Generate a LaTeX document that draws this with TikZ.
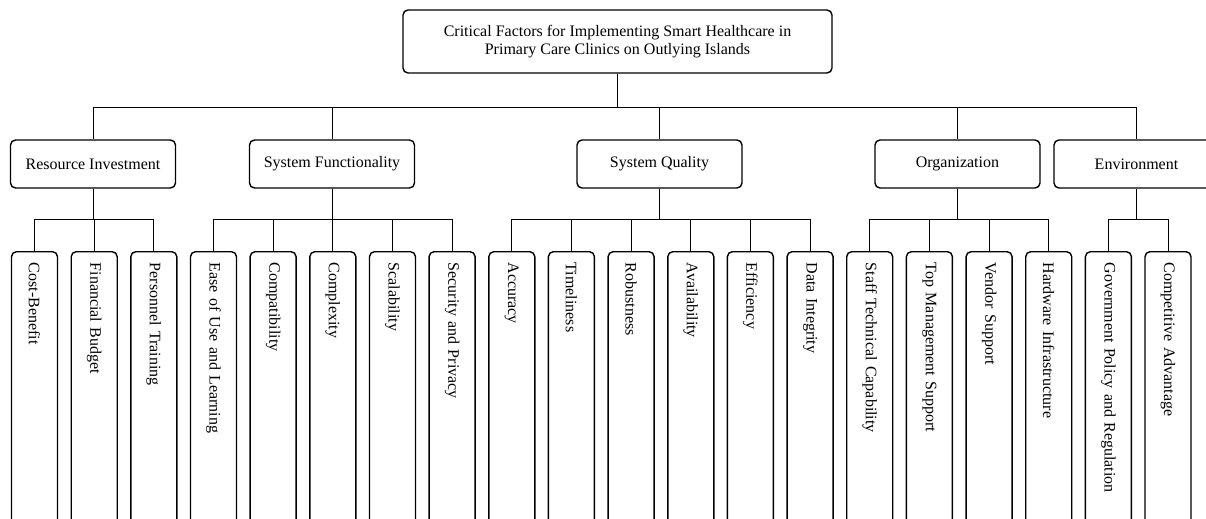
\documentclass[tikz,border=0pt]{standalone}
\usepackage{fontspec}
\setmainfont{Liberation Serif}
\usetikzlibrary{positioning}
\tikzset{
  rootbox/.style={draw,rounded corners=2.5pt,line width=0.7pt,align=center,minimum width=214.5pt,minimum height=31.5pt,inner sep=2pt},
  catbox/.style={draw,rounded corners=2.5pt,line width=0.7pt,align=center,minimum width=82.5pt,minimum height=24pt,inner sep=2pt},
  leafbox/.style={draw,rounded corners=2.5pt,line width=0.7pt,rotate=-90,anchor=west,minimum width=150pt,minimum height=23pt,inner xsep=5.5pt,inner ysep=0pt,text width=139pt,align=left},
  link/.style={draw,line width=0.5pt}
}
\begin{document}
\begin{tikzpicture}[x=0.5pt,y=-0.5pt,font=\fontsize{8}{9}\selectfont]
  \useasboundingbox (0,0) rectangle (1206,519);
  \clip (0,0) rectangle (1206,519);
  \node[rootbox] (root) at (617.5,41.5) {Critical Factors for Implementing Smart Healthcare in\\Primary Care Clinics on Outlying Islands};
  % factor groups
  \node[catbox] (res) at (93,164) {Resource Investment};
  \node[catbox] (func) at (332,164) {System Functionality};
  \node[catbox] (qual) at (659.5,164) {System Quality};
  \node[catbox] (org) at (957.5,164) {Organization};
  \node[catbox] (env) at (1136.5,164) {Environment};
  % sub-factors
  \node[leafbox] (cost) at (34.5,251) {Cost-Benefit};
  \node[leafbox] (budget) at (94.2,251) {Financial Budget};
  \node[leafbox] (train) at (153.8,251) {Personnel Training};
  \node[leafbox] (ease) at (213.5,251) {Ease of Use and Learning};
  \node[leafbox] (compat) at (273.1,251) {Compatibility};
  \node[leafbox] (cplx) at (332.8,251) {Complexity};
  \node[leafbox] (scale) at (392.5,251) {Scalability};
  \node[leafbox] (secur) at (452.1,251) {Security and Privacy};
  \node[leafbox] (acc) at (511.8,251) {Accuracy};
  \node[leafbox] (time) at (571.4,251) {Timeliness};
  \node[leafbox] (robust) at (631.1,251) {Robustness};
  \node[leafbox] (avail) at (690.8,251) {Availability};
  \node[leafbox] (effic) at (750.4,251) {Efficiency};
  \node[leafbox] (integ) at (810.1,251) {Data Integrity};
  \node[leafbox] (staff) at (869.7,251) {Staff Technical Capability};
  \node[leafbox] (topmgmt) at (929.4,251) {Top Management Support};
  \node[leafbox] (vendor) at (989.1,251) {Vendor Support};
  \node[leafbox] (hw) at (1048.7,251) {Hardware Infrastructure};
  \node[leafbox] (gov) at (1108.4,251) {Government Policy and Regulation};
  \node[leafbox] (compet) at (1168,251) {Competitive Advantage};
  % root to groups
  \draw[link] (root.south) -- ++(0,34) -| (res.north);
  \draw[link] (root.south) -- ++(0,34) -| (func.north);
  \draw[link] (root.south) -- ++(0,34) -| (qual.north);
  \draw[link] (root.south) -- ++(0,34) -| (org.north);
  \draw[link] (root.south) -- ++(0,34) -| (env.north);
  % groups to sub-factors
  \draw[link] (res.south) -- ++(0,31) -| (cost.west);
  \draw[link] (res.south) -- ++(0,31) -| (budget.west);
  \draw[link] (res.south) -- ++(0,31) -| (train.west);
  \draw[link] (func.south) -- ++(0,31) -| (ease.west);
  \draw[link] (func.south) -- ++(0,31) -| (compat.west);
  \draw[link] (func.south) -- ++(0,31) -| (cplx.west);
  \draw[link] (func.south) -- ++(0,31) -| (scale.west);
  \draw[link] (func.south) -- ++(0,31) -| (secur.west);
  \draw[link] (qual.south) -- ++(0,31) -| (acc.west);
  \draw[link] (qual.south) -- ++(0,31) -| (time.west);
  \draw[link] (qual.south) -- ++(0,31) -| (robust.west);
  \draw[link] (qual.south) -- ++(0,31) -| (avail.west);
  \draw[link] (qual.south) -- ++(0,31) -| (effic.west);
  \draw[link] (qual.south) -- ++(0,31) -| (integ.west);
  \draw[link] (org.south) -- ++(0,31) -| (staff.west);
  \draw[link] (org.south) -- ++(0,31) -| (topmgmt.west);
  \draw[link] (org.south) -- ++(0,31) -| (vendor.west);
  \draw[link] (org.south) -- ++(0,31) -| (hw.west);
  \draw[link] (env.south) -- ++(0,31) -| (gov.west);
  \draw[link] (env.south) -- ++(0,31) -| (compet.west);
\end{tikzpicture}
\end{document}
